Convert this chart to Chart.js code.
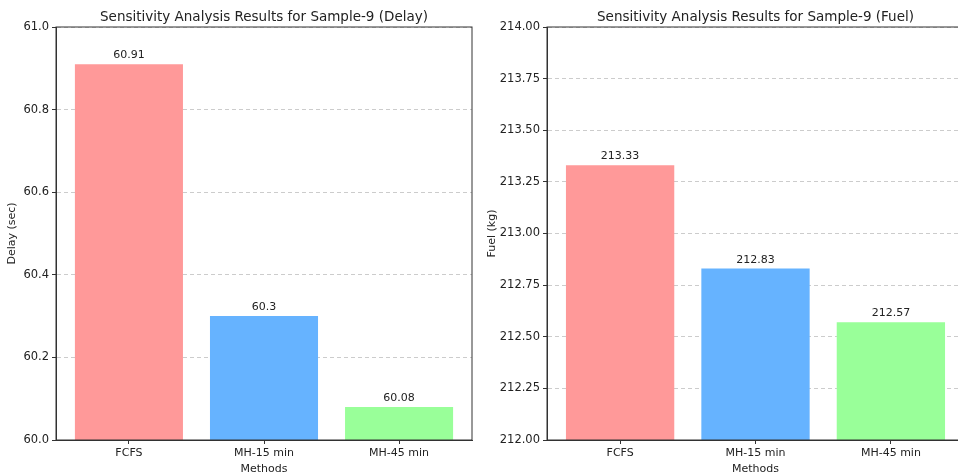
<!DOCTYPE html>
<html>
<head>
<meta charset="utf-8">
<script src="https://cdn.jsdelivr.net/npm/chart.js@4"></script>
<style>
  html, body { margin: 0; padding: 0; background: #fff; overflow: hidden; }
  body { width: 958px; height: 476px; position: relative; }
  .box { position: absolute; top: 0; height: 476px; }
  #left { left: 0; width: 480px; }
  #right { left: 480px; width: 484px; }
</style>
</head>
<body>
<div class="box" id="left"><canvas id="delayChart"></canvas></div>
<div class="box" id="right"><canvas id="fuelChart"></canvas></div>
<script>
const methods = ['FCFS', 'MH-15 min', 'MH-45 min'];
const delayValues = [60.91, 60.3, 60.08];
const fuelValues = [213.33, 212.83, 212.57];
const barColors = ['#ff9999', '#66b3ff', '#99ff99'];
const delayTicks = [60.0, 60.2, 60.4, 60.6, 60.8, 61.0];
const fuelTicks = [212.0, 212.25, 212.5, 212.75, 213.0, 213.25, 213.5, 213.75, 214.0];

Chart.defaults.font.family = '"DejaVu Sans", sans-serif';
Chart.defaults.color = '#222';

// title centred over the plot box, box frame, value labels above bars
const extras = {
  id: 'extras',
  afterDatasetsDraw(chart, args, opts) {
    const ctx = chart.ctx;
    const area = chart.chartArea;
    ctx.save();
    ctx.strokeStyle = '#333';
    ctx.lineWidth = 1;
    ctx.strokeRect(area.left, area.top, area.right - area.left, area.bottom - area.top);
    ctx.fillStyle = '#222';
    ctx.textAlign = 'center';
    ctx.textBaseline = 'alphabetic';
    ctx.font = '11px "DejaVu Sans"';
    const meta = chart.getDatasetMeta(0);
    meta.data.forEach((bar, i) => {
      ctx.fillText(opts.labels[i], bar.x, bar.y - 6);
    });
    ctx.font = '13.5px "DejaVu Sans"';
    ctx.fillText(opts.title, (area.left + area.right) / 2, 21);
    ctx.restore();
  }
};

const renderChart = (id, values, ticks, yLabel, decimals, axisWidth, padRight) => {
  const ctx = document.getElementById(id);
  new Chart(ctx, {
    type: 'bar',
    data: {
      datasets: [
        {
          data: values.map((v, i) => ({ x: i, y: v })),
          backgroundColor: barColors,
          barPercentage: 1,
          categoryPercentage: 0.8,
        },
      ],
    },
    options: {
      responsive: true,
      maintainAspectRatio: false,
      animation: false,
      layout: {
        padding: { top: 27, right: padRight, left: 0, bottom: 0 },
      },
      plugins: {
        legend: { display: false },
        tooltip: { enabled: false },
        extras: {
          title: id === 'delayChart'
            ? 'Sensitivity Analysis Results for Sample-9 (Delay)'
            : 'Sensitivity Analysis Results for Sample-9 (Fuel)',
          labels: values.map(String),
        },
      },
      scales: {
        x: {
          type: 'linear',
          offset: false,
          min: -0.54,
          max: 2.54,
          afterBuildTicks: (scale) => {
            scale.ticks = methods.map((m, i) => ({ value: i }));
          },
          afterFit: (scale) => { scale.height = 36; },
          ticks: {
            callback: (v) => methods[v],
            font: { size: 11 },
            padding: 3,
            maxRotation: 0,
            autoSkip: false,
          },
          grid: {
            offset: false,
            drawOnChartArea: false,
            drawTicks: true,
            tickLength: 4,
            tickColor: '#333',
          },
          border: { color: '#333' },
          title: {
            display: true,
            text: 'Methods',
            font: { size: 11 },
            padding: { top: 0, bottom: 0 },
          },
        },
        y: {
          min: ticks[0],
          max: ticks[ticks.length - 1],
          afterBuildTicks: (scale) => {
            scale.ticks = ticks.map((t) => ({ value: t }));
          },
          afterFit: (scale) => { scale.width = axisWidth; },
          ticks: {
            callback: (v) => v.toFixed(decimals),
            font: { size: 11.5 },
            padding: 3,
          },
          grid: {
            color: '#cccccc',
            tickColor: '#333',
            tickLength: 4,
            tickBorderDash: [],
          },
          border: { color: '#333', dash: [4, 3] },
          title: {
            display: true,
            text: yLabel,
            font: { size: 11 },
            padding: { top: 6, bottom: 0 },
          },
        },
      },
    },
    plugins: [extras],
  });
};

renderChart('delayChart', delayValues, delayTicks, 'Delay (sec)', 1, 56, 8);
renderChart('fuelChart', fuelValues, fuelTicks, 'Fuel (kg)', 2, 67, 0);
</script>
</body>
</html>
